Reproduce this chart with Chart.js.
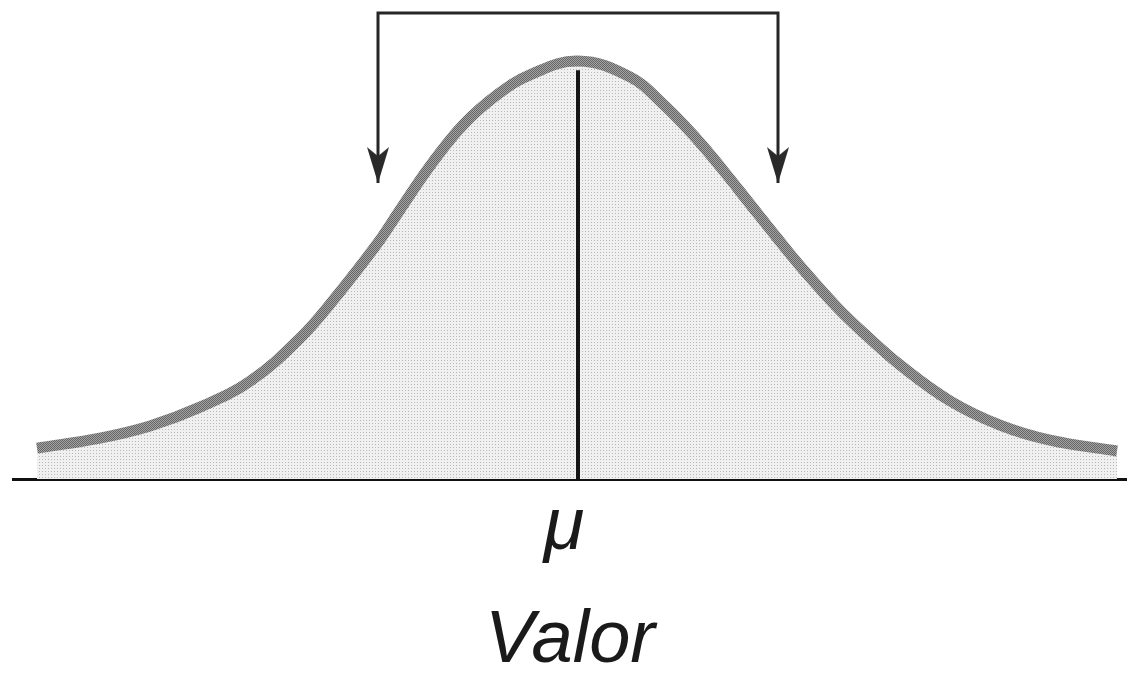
<!DOCTYPE html>
<html>
<head>
<meta charset="utf-8">
<script src="https://cdn.jsdelivr.net/npm/chart.js@4"></script>
<style>
  html, body { margin: 0; padding: 0; background: #fff; }
  #wrap { width: 1127px; height: 673px; position: relative; }
</style>
</head>
<body>
<div id="wrap"><canvas id="normalCurve"></canvas></div>
<script>
"use strict";

// curve (x in sigma units from the mean, y relative to the peak)
var curveX = [-2.705, -2.39, -2.14, -1.89, -1.64, -1.39, -1.215, -1.005, -0.89, -0.74, -0.575, -0.405, -0.24, 0,
              0.26, 0.425, 0.595, 0.725, 0.86, 0.995, 1.11, 1.295, 1.445, 1.61, 1.86, 2.11, 2.36, 2.695];
var curveY = [0.074, 0.098, 0.127, 0.172, 0.234, 0.337, 0.433, 0.562, 0.644, 0.749, 0.847, 0.919, 0.967, 1.0,
              0.962, 0.897, 0.813, 0.739, 0.658, 0.577, 0.510, 0.411, 0.342, 0.273, 0.187, 0.129, 0.093, 0.067];

// mean marker and the bracket pointing at -1 / +1 sigma
var meanX = [0, 0];
var meanY = [0, 0.978];
var bracketX = [-1, -1, 1, 1];
var bracketY = [0.708, 1.115, 1.115, 0.708];

// axis
var tickValues = [0];
var tickLabels = ["\u03bc"];
var axisTitle = "Valor";
var xMin = -2.825, xMax = 2.745;
var yMin = 0, yMax = 1.146;

function pts(xs, ys) {
    return xs.map(function (x, i) { return { x: x, y: ys[i] }; });
}

document.addEventListener("DOMContentLoaded", function () {
    var canvas = document.getElementById("normalCurve");
    var ctx = canvas.getContext("2d");

    // dotted grey fill under the curve
    var dot = document.createElement("canvas");
    dot.width = 3; dot.height = 3;
    var dctx = dot.getContext("2d");
    dctx.fillStyle = "#f0f0f0";
    dctx.fillRect(0, 0, 3, 3);
    dctx.fillStyle = "#b8b8b8";
    dctx.fillRect(0, 0, 1, 1);
    var dotFill = ctx.createPattern(dot, "repeat");

    // hatched grey for the curve stroke
    var hatch = document.createElement("canvas");
    hatch.width = 2; hatch.height = 2;
    var hctx = hatch.getContext("2d");
    hctx.fillStyle = "#a3a3a3";
    hctx.fillRect(0, 0, 2, 2);
    hctx.fillStyle = "#666666";
    hctx.fillRect(0, 0, 1, 1);
    hctx.fillRect(1, 1, 1, 1);
    var hatchStroke = ctx.createPattern(hatch, "repeat");

    // arrow head, tip sits on the point
    var arrow = document.createElement("canvas");
    arrow.width = 24; arrow.height = 80;
    var actx = arrow.getContext("2d");
    actx.fillStyle = "#2a2a2a";
    actx.beginPath();
    actx.moveTo(12, 40);
    actx.lineTo(1, 4);
    actx.lineTo(12, 13);
    actx.lineTo(23, 4);
    actx.closePath();
    actx.fill();

    var chart = new Chart(canvas, {
        type: "line",
        data: {
            datasets: [
            {
                label: "bracket",
                data: pts(bracketX, bracketY),
                borderColor: "#262626",
                borderWidth: 3,
                borderJoinStyle: "miter",
                borderCapStyle: "butt",
                fill: false,
                tension: 0,
                pointStyle: arrow,
                pointRadius: [5, 0, 0, 5],
                order: 1,
            },
            {
                label: "mean",
                data: pts(meanX, meanY),
                borderColor: "#151515",
                borderWidth: 4,
                fill: false,
                pointRadius: 0,
                order: 2,
            },
            {
                label: "curve",
                data: pts(curveX, curveY),
                borderColor: hatchStroke,
                borderWidth: 11,
                borderCapStyle: "butt",
                backgroundColor: dotFill,
                fill: "origin",
                tension: 0.4,
                pointRadius: 0,
                order: 3,
            },
            ],
        },
        options: {
            responsive: true,
            maintainAspectRatio: false,
            animation: false,
            layout: {
                autoPadding: false,
                padding: { left: 13, right: 0, top: 0, bottom: 0 },
            },
            plugins: {
                legend: { display: false },
                tooltip: { enabled: false },
            },
            scales: {
                x: {
                    type: "linear",
                    min: xMin,
                    max: xMax,
                    grid: { display: false, drawTicks: false },
                    border: { display: true, color: "#111111", width: 3 },
                    afterBuildTicks: function (scale) {
                        scale.ticks = tickValues.map(function (v) { return { value: v }; });
                    },
                    afterFit: function (scale) {
                        scale.height = 194;
                    },
                    ticks: {
                        autoSkip: false,
                        maxRotation: 0,
                        padding: 5,
                        labelOffset: -14,
                        color: "#1a1a1a",
                        font: { family: "Liberation Sans", style: "italic", size: 74 },
                        callback: function (value, index) {
                            return tickLabels[index];
                        },
                    },
                    title: {
                        display: true,
                        text: axisTitle,
                        color: "#1a1a1a",
                        font: { family: "Liberation Sans", style: "italic", size: 74, lineHeight: 1.0 },
                        padding: { top: 0, bottom: -5 },
                    },
                },
                y: {
                    display: false,
                    min: yMin,
                    max: yMax,
                },
            },
        },
    });
});
</script>
</body>
</html>
